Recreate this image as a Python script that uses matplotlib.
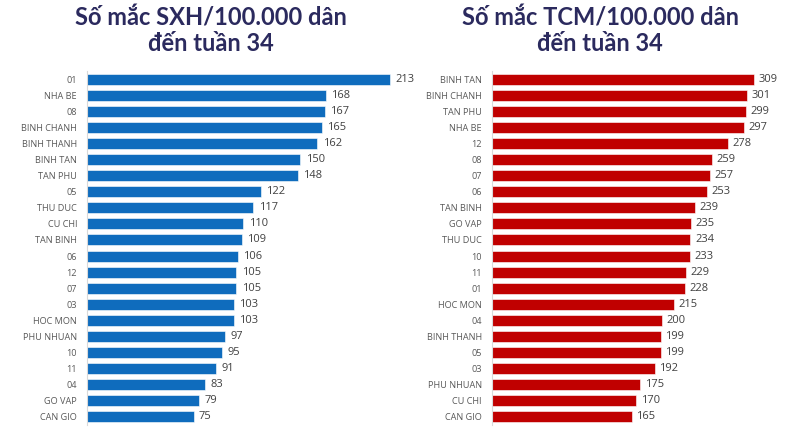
import matplotlib
matplotlib.use("Agg")
import matplotlib.pyplot as plt

left_cats = ["01", "NHA BE", "08", "BINH CHANH", "BINH THANH", "BINH TAN", "TAN PHU",
             "05", "THU DUC", "CU CHI", "TAN BINH", "06", "12", "07", "03", "HOC MON",
             "PHU NHUAN", "10", "11", "04", "GO VAP", "CAN GIO"]
left_vals = [213, 168, 167, 165, 162, 150, 148, 122, 117, 110, 109, 106, 105, 105, 103,
             103, 97, 95, 91, 83, 79, 75]

right_cats = ["BINH TAN", "BINH CHANH", "TAN PHU", "NHA BE", "12", "08", "07", "06",
              "TAN BINH", "GO VAP", "THU DUC", "10", "11", "01", "HOC MON", "04",
              "BINH THANH", "05", "03", "PHU NHUAN", "CU CHI", "CAN GIO"]
right_vals = [309, 301, 299, 297, 278, 259, 257, 253, 239, 235, 234, 233, 229, 228, 215,
              200, 199, 199, 192, 175, 170, 165]

left_title = "Số mắc SXH/100.000 dân\nđến tuần 34"
right_title = "Số mắc TCM/100.000 dân\nđến tuần 34"

W, H = 799, 438
fig = plt.figure(figsize=(W / 100, H / 100), dpi=100)
fig.patch.set_facecolor("white")

def panel(x0, xmax, px_per_unit, cats, vals, color, title, title_cx):
    top, bottom = 71, 425
    width_px = xmax * px_per_unit
    ax = fig.add_axes([x0 / W, (H - bottom) / H, width_px / W, (bottom - top) / H])
    y = list(range(len(cats)))
    ax.barh(y, vals, height=0.68, color=color, edgecolor="white", linewidth=0.4)
    ax.set_xlim(0, xmax)
    ax.set_ylim(len(cats) - 0.5, -0.5)
    ax.set_yticks(y)
    ax.set_yticklabels(cats, fontsize=6.6, color="#595959", family="Open Sans")
    ax.tick_params(axis="y", length=0, pad=7.2)
    ax.set_xticks([])
    for s in ["top", "right", "bottom"]:
        ax.spines[s].set_visible(False)
    ax.spines["left"].set_color("#d9d9d9")
    ax.spines["left"].set_linewidth(0.8)
    for yi, v in zip(y, vals):
        ax.text(v + xmax * 0.015, yi, str(v), va="center", ha="left",
                fontsize=8, color="#404040", family="Open Sans")
    fig.text(title_cx / W, 1 - 30.5 / H, title, ha="center", va="center",
             fontsize=17.0, fontweight="bold", color="#2b2a5e", family="Lato",
             linespacing=1.12)
    return ax

panel(87, 250, 303 / 213, left_cats, left_vals, "#0f6cbd", left_title, 211)
panel(492, 360, 262 / 309, right_cats, right_vals, "#c00000", right_title, 600)

fig.savefig("out.png", dpi=100, facecolor="white")
